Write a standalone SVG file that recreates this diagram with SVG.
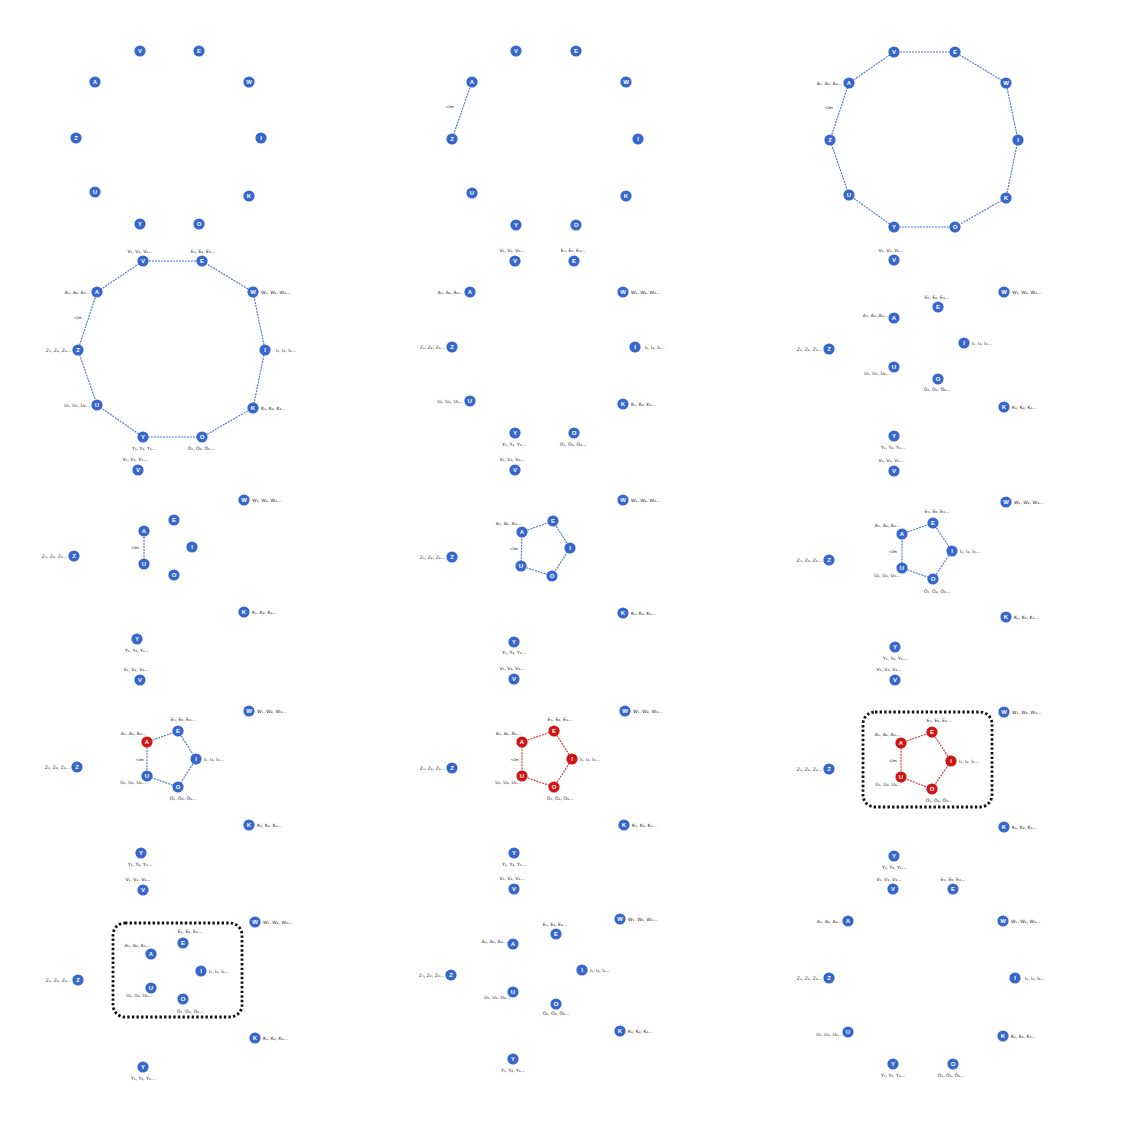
<svg xmlns="http://www.w3.org/2000/svg" width="1123" height="1133" viewBox="0 0 1123 1133">
<style>
.node circle{fill:#3767cc;r:5.6px}
.node.red circle{fill:#d01515}
.node text{fill:#fff;font-family:"Liberation Sans",Arial,sans-serif;font-weight:bold;font-size:6px;text-anchor:middle}
.node text.l{fill:#222;font-family:"DejaVu Sans","Liberation Sans",sans-serif;font-weight:normal;font-size:4.6px;text-anchor:start}
.node text.le{text-anchor:end}
.node text.lm{text-anchor:middle}
.e{fill:none;stroke:#4a70c8;stroke-width:1.1;stroke-dasharray:2 1}
.er{fill:none;stroke:#d83030;stroke-width:1.1;stroke-dasharray:2 1}
.note{fill:#2a2a2a;font-family:"Liberation Sans",Arial,sans-serif;font-size:4px;text-anchor:middle}
.box{fill:none;stroke:#111;stroke-width:2.8;stroke-dasharray:2.4 2.2}
</style>
<rect width="1123" height="1133" fill="#fff"/>

<g id="connectors">
<line class="e" x1="472" y1="82" x2="452" y2="139"/>
<polygon class="e" points="894,52 955,52 1006,83 1018,140 1006,198 955,227 894,227 849,195 830,140 849,83"/>
<polygon class="e" points="143,261 202,261 253,292 265,350 253,408 202,437 143,437 97,405 78,350 97,292"/>
<line class="e" x1="144" y1="531" x2="144" y2="564"/>
<polygon class="e" points="522,532 553,521 570,548 552,576 521,566"/>
<polygon class="e" points="902,534 933,523 952,551 933,579 902,568"/>
<polygon class="e" points="147,742 178,731 196,759 178,787 147,776"/>
<polygon class="er" points="522,742 554,731 572,759 554,787 522,776"/>
<polygon class="er" points="901,743 932,732 951,761 932,789 901,777"/>
<rect class="box" x="113" y="923" width="129" height="94" rx="12"/>
<rect class="box" x="863" y="712" width="129" height="95" rx="12"/>
</g>

<g id="notes">
<text class="note" x="450" y="108">&lt;0m</text>
<text class="note" x="829" y="109">&lt;0m</text>
<text class="note" x="78" y="319">&lt;0m</text>
<text class="note" x="135" y="549">&lt;0m</text>
<text class="note" x="514" y="550">&lt;0m</text>
<text class="note" x="893" y="553">&lt;0m</text>
<text class="note" x="140" y="761">&lt;0m</text>
<text class="note" x="515" y="761">&lt;0m</text>
<text class="note" x="893" y="762">&lt;0m</text>
</g>

<!-- Panel 1 -->
<g id="p1-V" class="node"><circle cx="140" cy="51" r="5.6"/><text x="140" y="53">V</text></g>
<g id="p1-E" class="node"><circle cx="199" cy="51" r="5.6"/><text x="199" y="53">E</text></g>
<g id="p1-A" class="node"><circle cx="95" cy="82" r="5.6"/><text x="95" y="84">A</text></g>
<g id="p1-W" class="node"><circle cx="249" cy="82" r="5.6"/><text x="249" y="84">W</text></g>
<g id="p1-Z" class="node"><circle cx="76" cy="138" r="5.6"/><text x="76" y="140">Z</text></g>
<g id="p1-I" class="node"><circle cx="261" cy="138" r="5.6"/><text x="261" y="140">I</text></g>
<g id="p1-U" class="node"><circle cx="95" cy="192" r="5.6"/><text x="95" y="194">U</text></g>
<g id="p1-K" class="node"><circle cx="249" cy="196" r="5.6"/><text x="249" y="198">K</text></g>
<g id="p1-Y" class="node"><circle cx="140" cy="224" r="5.6"/><text x="140" y="226">Y</text></g>
<g id="p1-O" class="node"><circle cx="199" cy="224" r="5.6"/><text x="199" y="226">O</text></g>

<!-- Panel 2 -->
<g id="p2-V" class="node"><circle cx="516" cy="51" r="5.6"/><text x="516" y="53">V</text></g>
<g id="p2-E" class="node"><circle cx="576" cy="51" r="5.6"/><text x="576" y="53">E</text></g>
<g id="p2-A" class="node"><circle cx="472" cy="82" r="5.6"/><text x="472" y="84">A</text></g>
<g id="p2-W" class="node"><circle cx="626" cy="82" r="5.6"/><text x="626" y="84">W</text></g>
<g id="p2-Z" class="node"><circle cx="452" cy="139" r="5.6"/><text x="452" y="141">Z</text></g>
<g id="p2-I" class="node"><circle cx="638" cy="139" r="5.6"/><text x="638" y="141">I</text></g>
<g id="p2-U" class="node"><circle cx="472" cy="193" r="5.6"/><text x="472" y="195">U</text></g>
<g id="p2-K" class="node"><circle cx="626" cy="196" r="5.6"/><text x="626" y="198">K</text></g>
<g id="p2-Y" class="node"><circle cx="516" cy="225" r="5.6"/><text x="516" y="227">Y</text></g>
<g id="p2-O" class="node"><circle cx="576" cy="225" r="5.6"/><text x="576" y="227">O</text></g>

<!-- Panel 3 -->
<g id="p3-V" class="node"><circle cx="894" cy="52" r="5.6"/><text x="894" y="54">V</text></g>
<g id="p3-E" class="node"><circle cx="955" cy="52" r="5.6"/><text x="955" y="54">E</text></g>
<g id="p3-A" class="node"><circle cx="849" cy="83" r="5.6"/><text x="849" y="85">A</text><text class="l le" x="842" y="85">A₁, A₂, A₃...</text></g>
<g id="p3-W" class="node"><circle cx="1006" cy="83" r="5.6"/><text x="1006" y="85">W</text></g>
<g id="p3-Z" class="node"><circle cx="830" cy="140" r="5.6"/><text x="830" y="142">Z</text></g>
<g id="p3-I" class="node"><circle cx="1018" cy="140" r="5.6"/><text x="1018" y="142">I</text></g>
<g id="p3-U" class="node"><circle cx="849" cy="195" r="5.6"/><text x="849" y="197">U</text></g>
<g id="p3-K" class="node"><circle cx="1006" cy="198" r="5.6"/><text x="1006" y="200">K</text></g>
<g id="p3-Y" class="node"><circle cx="894" cy="227" r="5.6"/><text x="894" y="229">Y</text></g>
<g id="p3-O" class="node"><circle cx="955" cy="227" r="5.6"/><text x="955" y="229">O</text></g>
<g id="p3-V2" class="node"><circle cx="894" cy="260" r="5.6"/><text x="894" y="262">V</text><text class="l lm" x="891" y="252">V₁, V₂, V₃...</text></g>

<!-- Panel 4 -->
<g id="p4-V" class="node"><circle cx="143" cy="261" r="5.6"/><text x="143" y="263">V</text><text class="l lm" x="140" y="253">V₁, V₂, V₃...</text></g>
<g id="p4-E" class="node"><circle cx="202" cy="261" r="5.6"/><text x="202" y="263">E</text><text class="l lm" x="203" y="253">E₁, E₂, E₃...</text></g>
<g id="p4-A" class="node"><circle cx="97" cy="292" r="5.6"/><text x="97" y="294">A</text><text class="l le" x="90" y="294">A₁, A₂, A₃...</text></g>
<g id="p4-W" class="node"><circle cx="253" cy="292" r="5.6"/><text x="253" y="294">W</text><text class="l" x="261" y="294">W₁, W₂, W₃...</text></g>
<g id="p4-Z" class="node"><circle cx="78" cy="350" r="5.6"/><text x="78" y="352">Z</text><text class="l le" x="71" y="352">Z₁, Z₂, Z₃...</text></g>
<g id="p4-I" class="node"><circle cx="265" cy="350" r="5.6"/><text x="265" y="352">I</text><text class="l" x="276" y="352">I₁, I₂, I₃...</text></g>
<g id="p4-U" class="node"><circle cx="97" cy="405" r="5.6"/><text x="97" y="407">U</text><text class="l le" x="90" y="407">U₁, U₂, U₃...</text></g>
<g id="p4-K" class="node"><circle cx="253" cy="408" r="5.6"/><text x="253" y="410">K</text><text class="l" x="261" y="410">K₁, K₂, K₃...</text></g>
<g id="p4-Y" class="node"><circle cx="143" cy="437" r="5.6"/><text x="143" y="439">Y</text><text class="l lm" x="144" y="450">Y₁, Y₂, Y₃...</text></g>
<g id="p4-O" class="node"><circle cx="202" cy="437" r="5.6"/><text x="202" y="439">O</text><text class="l lm" x="201" y="450">O₁, O₂, O₃...</text></g>
<g id="p4-V2" class="node"><circle cx="138" cy="470" r="5.6"/><text x="138" y="472">V</text><text class="l lm" x="135" y="461">V₁, V₂, V₃...</text></g>

<!-- Panel 5 -->
<g id="p5-V" class="node"><circle cx="515" cy="261" r="5.6"/><text x="515" y="263">V</text><text class="l lm" x="512" y="252">V₁, V₂, V₃...</text></g>
<g id="p5-E" class="node"><circle cx="574" cy="261" r="5.6"/><text x="574" y="263">E</text><text class="l lm" x="573" y="252">E₁, E₂, E₃...</text></g>
<g id="p5-A" class="node"><circle cx="470" cy="292" r="5.6"/><text x="470" y="294">A</text><text class="l le" x="463" y="294">A₁, A₂, A₃...</text></g>
<g id="p5-W" class="node"><circle cx="623" cy="292" r="5.6"/><text x="623" y="294">W</text><text class="l" x="631" y="294">W₁, W₂, W₃...</text></g>
<g id="p5-Z" class="node"><circle cx="452" cy="347" r="5.6"/><text x="452" y="349">Z</text><text class="l le" x="445" y="349">Z₁, Z₂, Z₃...</text></g>
<g id="p5-I" class="node"><circle cx="635" cy="347" r="5.6"/><text x="635" y="349">I</text><text class="l" x="645" y="349">I₁, I₂, I₃...</text></g>
<g id="p5-U" class="node"><circle cx="470" cy="401" r="5.6"/><text x="470" y="403">U</text><text class="l le" x="463" y="403">U₁, U₂, U₃...</text></g>
<g id="p5-K" class="node"><circle cx="623" cy="404" r="5.6"/><text x="623" y="406">K</text><text class="l" x="631" y="406">K₁, K₂, K₃...</text></g>
<g id="p5-Y" class="node"><circle cx="515" cy="433" r="5.6"/><text x="515" y="435">Y</text><text class="l lm" x="514" y="446">Y₁, Y₂, Y₃...</text></g>
<g id="p5-O" class="node"><circle cx="574" cy="433" r="5.6"/><text x="574" y="435">O</text><text class="l lm" x="573" y="446">O₁, O₂, O₃...</text></g>
<g id="p5-V2" class="node"><circle cx="515" cy="470" r="5.6"/><text x="515" y="472">V</text><text class="l lm" x="512" y="461">V₁, V₂, V₃...</text></g>

<!-- Panel 6 -->
<g id="p6-W" class="node"><circle cx="1004" cy="292" r="5.6"/><text x="1004" y="294">W</text><text class="l" x="1012" y="294">W₁, W₂, W₃...</text></g>
<g id="p6-E" class="node"><circle cx="938" cy="307" r="5.6"/><text x="938" y="309">E</text><text class="l lm" x="937" y="299">E₁, E₂, E₃...</text></g>
<g id="p6-A" class="node"><circle cx="894" cy="318" r="5.6"/><text x="894" y="320">A</text><text class="l le" x="888" y="317">A₁, A₂, A₃...</text></g>
<g id="p6-Z" class="node"><circle cx="829" cy="349" r="5.6"/><text x="829" y="351">Z</text><text class="l le" x="822" y="351">Z₁, Z₂, Z₃...</text></g>
<g id="p6-I" class="node"><circle cx="964" cy="343" r="5.6"/><text x="964" y="345">I</text><text class="l" x="972" y="345">I₁, I₂, I₃...</text></g>
<g id="p6-U" class="node"><circle cx="894" cy="367" r="5.6"/><text x="894" y="369">U</text><text class="l le" x="890" y="375">U₁, U₂, U₃...</text></g>
<g id="p6-O" class="node"><circle cx="938" cy="379" r="5.6"/><text x="938" y="381">O</text><text class="l lm" x="937" y="391">O₁, O₂, O₃...</text></g>
<g id="p6-K" class="node"><circle cx="1004" cy="407" r="5.6"/><text x="1004" y="409">K</text><text class="l" x="1012" y="409">K₁, K₂, K₃...</text></g>
<g id="p6-Y" class="node"><circle cx="894" cy="436" r="5.6"/><text x="894" y="438">Y</text><text class="l lm" x="893" y="449">Y₁, Y₂, Y₃...</text></g>
<g id="p6-V" class="node"><circle cx="894" cy="471" r="5.6"/><text x="894" y="473">V</text><text class="l lm" x="891" y="462">V₁, V₂, V₃...</text></g>

<!-- Panel 7 -->
<g id="p7-W" class="node"><circle cx="244" cy="500" r="5.6"/><text x="244" y="502">W</text><text class="l" x="252" y="502">W₁, W₂, W₃...</text></g>
<g id="p7-E" class="node"><circle cx="174" cy="520" r="5.6"/><text x="174" y="522">E</text></g>
<g id="p7-A" class="node"><circle cx="144" cy="531" r="5.6"/><text x="144" y="533">A</text></g>
<g id="p7-I" class="node"><circle cx="192" cy="547" r="5.6"/><text x="192" y="549">I</text></g>
<g id="p7-Z" class="node"><circle cx="74" cy="556" r="5.6"/><text x="74" y="558">Z</text><text class="l le" x="67" y="558">Z₁, Z₂, Z₃...</text></g>
<g id="p7-U" class="node"><circle cx="144" cy="564" r="5.6"/><text x="144" y="566">U</text></g>
<g id="p7-O" class="node"><circle cx="174" cy="575" r="5.6"/><text x="174" y="577">O</text></g>
<g id="p7-K" class="node"><circle cx="244" cy="612" r="5.6"/><text x="244" y="614">K</text><text class="l" x="252" y="614">K₁, K₂, K₃...</text></g>
<g id="p7-Y" class="node"><circle cx="137" cy="639" r="5.6"/><text x="137" y="641">Y</text><text class="l lm" x="137" y="652">Y₁, Y₂, Y₃...</text></g>
<g id="p7-V" class="node"><circle cx="140" cy="680" r="5.6"/><text x="140" y="682">V</text><text class="l lm" x="136" y="671">V₁, V₂, V₃...</text></g>

<!-- Panel 8 -->
<g id="p8-W" class="node"><circle cx="623" cy="500" r="5.6"/><text x="623" y="502">W</text><text class="l" x="631" y="502">W₁, W₂, W₃...</text></g>
<g id="p8-E" class="node"><circle cx="553" cy="521" r="5.6"/><text x="553" y="523">E</text></g>
<g id="p8-A" class="node"><circle cx="522" cy="532" r="5.6"/><text x="522" y="534">A</text><text class="l le" x="521" y="525">A₁, A₂, A₃...</text></g>
<g id="p8-I" class="node"><circle cx="570" cy="548" r="5.6"/><text x="570" y="550">I</text></g>
<g id="p8-Z" class="node"><circle cx="452" cy="557" r="5.6"/><text x="452" y="559">Z</text><text class="l le" x="445" y="559">Z₁, Z₂, Z₃...</text></g>
<g id="p8-U" class="node"><circle cx="521" cy="566" r="5.6"/><text x="521" y="568">U</text></g>
<g id="p8-O" class="node"><circle cx="552" cy="576" r="5.6"/><text x="552" y="578">O</text></g>
<g id="p8-K" class="node"><circle cx="623" cy="613" r="5.6"/><text x="623" y="615">K</text><text class="l" x="631" y="615">K₁, K₂, K₃...</text></g>
<g id="p8-Y" class="node"><circle cx="514" cy="642" r="5.6"/><text x="514" y="644">Y</text><text class="l lm" x="514" y="654">Y₁, Y₂, Y₃...</text></g>
<g id="p8-V" class="node"><circle cx="514" cy="679" r="5.6"/><text x="514" y="681">V</text><text class="l lm" x="512" y="670">V₁, V₂, V₃...</text></g>

<!-- Panel 9 -->
<g id="p9-W" class="node"><circle cx="1006" cy="502" r="5.6"/><text x="1006" y="504">W</text><text class="l" x="1014" y="504">W₁, W₂, W₃...</text></g>
<g id="p9-E" class="node"><circle cx="933" cy="523" r="5.6"/><text x="933" y="525">E</text><text class="l lm" x="937" y="513">E₁, E₂, E₃...</text></g>
<g id="p9-A" class="node"><circle cx="902" cy="534" r="5.6"/><text x="902" y="536">A</text><text class="l le" x="900" y="527">A₁, A₂, A₃...</text></g>
<g id="p9-I" class="node"><circle cx="952" cy="551" r="5.6"/><text x="952" y="553">I</text><text class="l" x="960" y="553">I₁, I₂, I₃...</text></g>
<g id="p9-Z" class="node"><circle cx="829" cy="560" r="5.6"/><text x="829" y="562">Z</text><text class="l le" x="822" y="562">Z₁, Z₂, Z₃...</text></g>
<g id="p9-U" class="node"><circle cx="902" cy="568" r="5.6"/><text x="902" y="570">U</text><text class="l le" x="900" y="577">U₁, U₂, U₃...</text></g>
<g id="p9-O" class="node"><circle cx="933" cy="579" r="5.6"/><text x="933" y="581">O</text><text class="l lm" x="937" y="593">O₁, O₂, O₃...</text></g>
<g id="p9-K" class="node"><circle cx="1006" cy="617" r="5.6"/><text x="1006" y="619">K</text><text class="l" x="1014" y="619">K₁, K₂, K₃...</text></g>
<g id="p9-Y" class="node"><circle cx="895" cy="647" r="5.6"/><text x="895" y="649">Y</text><text class="l lm" x="895" y="660">Y₁, Y₂, Y₃...</text></g>
<g id="p9-V" class="node"><circle cx="895" cy="680" r="5.6"/><text x="895" y="682">V</text><text class="l lm" x="889" y="671">V₁, V₂, V₃...</text></g>

<!-- Panel 10 -->
<g id="p10-W" class="node"><circle cx="249" cy="711" r="5.6"/><text x="249" y="713">W</text><text class="l" x="257" y="713">W₁, W₂, W₃...</text></g>
<g id="p10-E" class="node"><circle cx="178" cy="731" r="5.6"/><text x="178" y="733">E</text><text class="l lm" x="183" y="721">E₁, E₂, E₃...</text></g>
<g id="p10-A" class="node red"><circle cx="147" cy="742" r="5.6"/><text x="147" y="744">A</text><text class="l le" x="146" y="735">A₁, A₂, A₃...</text></g>
<g id="p10-I" class="node"><circle cx="196" cy="759" r="5.6"/><text x="196" y="761">I</text><text class="l" x="204" y="761">I₁, I₂, I₃...</text></g>
<g id="p10-Z" class="node"><circle cx="77" cy="767" r="5.6"/><text x="77" y="769">Z</text><text class="l le" x="70" y="769">Z₁, Z₂, Z₃...</text></g>
<g id="p10-U" class="node"><circle cx="147" cy="776" r="5.6"/><text x="147" y="778">U</text><text class="l le" x="146" y="784">U₁, U₂, U₃...</text></g>
<g id="p10-O" class="node"><circle cx="178" cy="787" r="5.6"/><text x="178" y="789">O</text><text class="l lm" x="183" y="800">O₁, O₂, O₃...</text></g>
<g id="p10-K" class="node"><circle cx="249" cy="825" r="5.6"/><text x="249" y="827">K</text><text class="l" x="257" y="827">K₁, K₂, K₃...</text></g>
<g id="p10-Y" class="node"><circle cx="141" cy="853" r="5.6"/><text x="141" y="855">Y</text><text class="l lm" x="140" y="866">Y₁, Y₂, Y₃...</text></g>
<g id="p10-V" class="node"><circle cx="143" cy="890" r="5.6"/><text x="143" y="892">V</text><text class="l lm" x="138" y="881">V₁, V₂, V₃...</text></g>

<!-- Panel 11 -->
<g id="p11-W" class="node"><circle cx="625" cy="711" r="5.6"/><text x="625" y="713">W</text><text class="l" x="633" y="713">W₁, W₂, W₃...</text></g>
<g id="p11-E" class="node red"><circle cx="554" cy="731" r="5.6"/><text x="554" y="733">E</text><text class="l lm" x="560" y="721">E₁, E₂, E₃...</text></g>
<g id="p11-A" class="node red"><circle cx="522" cy="742" r="5.6"/><text x="522" y="744">A</text><text class="l le" x="521" y="735">A₁, A₂, A₃...</text></g>
<g id="p11-I" class="node red"><circle cx="572" cy="759" r="5.6"/><text x="572" y="761">I</text><text class="l" x="580" y="761">I₁, I₂, I₃...</text></g>
<g id="p11-Z" class="node"><circle cx="452" cy="768" r="5.6"/><text x="452" y="770">Z</text><text class="l le" x="445" y="770">Z₁, Z₂, Z₃...</text></g>
<g id="p11-U" class="node red"><circle cx="522" cy="776" r="5.6"/><text x="522" y="778">U</text><text class="l le" x="521" y="784">U₁, U₂, U₃...</text></g>
<g id="p11-O" class="node red"><circle cx="554" cy="787" r="5.6"/><text x="554" y="789">O</text><text class="l lm" x="560" y="800">O₁, O₂, O₃...</text></g>
<g id="p11-K" class="node"><circle cx="624" cy="825" r="5.6"/><text x="624" y="827">K</text><text class="l" x="632" y="827">K₁, K₂, K₃...</text></g>
<g id="p11-Y" class="node"><circle cx="514" cy="853" r="5.6"/><text x="514" y="855">Y</text><text class="l lm" x="514" y="866">Y₁, Y₂, Y₃...</text></g>
<g id="p11-V" class="node"><circle cx="514" cy="889" r="5.6"/><text x="514" y="891">V</text><text class="l lm" x="512" y="880">V₁, V₂, V₃...</text></g>

<!-- Panel 12 -->
<g id="p12-W" class="node"><circle cx="1004" cy="712" r="5.6"/><text x="1004" y="714">W</text><text class="l" x="1012" y="714">W₁, W₂, W₃...</text></g>
<g id="p12-E" class="node red"><circle cx="932" cy="732" r="5.6"/><text x="932" y="734">E</text><text class="l lm" x="939" y="722">E₁, E₂, E₃...</text></g>
<g id="p12-A" class="node red"><circle cx="901" cy="743" r="5.6"/><text x="901" y="745">A</text><text class="l le" x="900" y="736">A₁, A₂, A₃...</text></g>
<g id="p12-I" class="node red"><circle cx="951" cy="761" r="5.6"/><text x="951" y="763">I</text><text class="l" x="959" y="763">I₁, I₂, I₃...</text></g>
<g id="p12-Z" class="node"><circle cx="829" cy="769" r="5.6"/><text x="829" y="771">Z</text><text class="l le" x="822" y="771">Z₁, Z₂, Z₃...</text></g>
<g id="p12-U" class="node red"><circle cx="901" cy="777" r="5.6"/><text x="901" y="779">U</text><text class="l le" x="901" y="786">U₁, U₂, U₃...</text></g>
<g id="p12-O" class="node red"><circle cx="932" cy="789" r="5.6"/><text x="932" y="791">O</text><text class="l lm" x="939" y="802">O₁, O₂, O₃...</text></g>
<g id="p12-K" class="node"><circle cx="1004" cy="827" r="5.6"/><text x="1004" y="829">K</text><text class="l" x="1012" y="829">K₁, K₂, K₃...</text></g>
<g id="p12-Y" class="node"><circle cx="894" cy="856" r="5.6"/><text x="894" y="858">Y</text><text class="l lm" x="894" y="869">Y₁, Y₂, Y₃...</text></g>

<!-- Panel 13 -->
<g id="p13-W" class="node"><circle cx="255" cy="922" r="5.6"/><text x="255" y="924">W</text><text class="l" x="263" y="924">W₁, W₂, W₃...</text></g>
<g id="p13-E" class="node"><circle cx="183" cy="943" r="5.6"/><text x="183" y="945">E</text><text class="l lm" x="190" y="933">E₁, E₂, E₃...</text></g>
<g id="p13-A" class="node"><circle cx="151" cy="954" r="5.6"/><text x="151" y="956">A</text><text class="l le" x="150" y="947">A₁, A₂, A₃...</text></g>
<g id="p13-I" class="node"><circle cx="201" cy="971" r="5.6"/><text x="201" y="973">I</text><text class="l" x="209" y="973">I₁, I₂, I₃...</text></g>
<g id="p13-Z" class="node"><circle cx="78" cy="980" r="5.6"/><text x="78" y="982">Z</text><text class="l le" x="71" y="982">Z₁, Z₂, Z₃...</text></g>
<g id="p13-U" class="node"><circle cx="151" cy="988" r="5.6"/><text x="151" y="990">U</text><text class="l le" x="152" y="997">U₁, U₂, U₃...</text></g>
<g id="p13-O" class="node"><circle cx="183" cy="999" r="5.6"/><text x="183" y="1001">O</text><text class="l lm" x="190" y="1013">O₁, O₂, O₃...</text></g>
<g id="p13-K" class="node"><circle cx="255" cy="1038" r="5.6"/><text x="255" y="1040">K</text><text class="l" x="263" y="1040">K₁, K₂, K₃...</text></g>
<g id="p13-Y" class="node"><circle cx="143" cy="1067" r="5.6"/><text x="143" y="1069">Y</text><text class="l lm" x="143" y="1080">Y₁, Y₂, Y₃...</text></g>

<!-- Panel 14 -->
<g id="p14-W" class="node"><circle cx="620" cy="919" r="5.6"/><text x="620" y="921">W</text><text class="l" x="628" y="921">W₁, W₂, W₃...</text></g>
<g id="p14-E" class="node"><circle cx="556" cy="934" r="5.6"/><text x="556" y="936">E</text><text class="l lm" x="555" y="926">E₁, E₂, E₃...</text></g>
<g id="p14-A" class="node"><circle cx="513" cy="944" r="5.6"/><text x="513" y="946">A</text><text class="l le" x="507" y="943">A₁, A₂, A₃...</text></g>
<g id="p14-Z" class="node"><circle cx="451" cy="975" r="5.6"/><text x="451" y="977">Z</text><text class="l le" x="444" y="977">Z₁, Z₂, Z₃...</text></g>
<g id="p14-I" class="node"><circle cx="582" cy="970" r="5.6"/><text x="582" y="972">I</text><text class="l" x="590" y="972">I₁, I₂, I₃...</text></g>
<g id="p14-U" class="node"><circle cx="513" cy="992" r="5.6"/><text x="513" y="994">U</text><text class="l le" x="510" y="999">U₁, U₂, U₃...</text></g>
<g id="p14-O" class="node"><circle cx="556" cy="1004" r="5.6"/><text x="556" y="1006">O</text><text class="l lm" x="556" y="1015">O₁, O₂, O₃...</text></g>
<g id="p14-K" class="node"><circle cx="620" cy="1031" r="5.6"/><text x="620" y="1033">K</text><text class="l" x="628" y="1033">K₁, K₂, K₃...</text></g>
<g id="p14-Y" class="node"><circle cx="513" cy="1059" r="5.6"/><text x="513" y="1061">Y</text><text class="l lm" x="513" y="1072">Y₁, Y₂, Y₃...</text></g>

<!-- Panel 15 -->
<g id="p15-V" class="node"><circle cx="893" cy="889" r="5.6"/><text x="893" y="891">V</text><text class="l lm" x="889" y="881">V₁, V₂, V₃...</text></g>
<g id="p15-E" class="node"><circle cx="953" cy="889" r="5.6"/><text x="953" y="891">E</text><text class="l lm" x="953" y="881">E₁, E₂, E₃...</text></g>
<g id="p15-A" class="node"><circle cx="848" cy="921" r="5.6"/><text x="848" y="923">A</text><text class="l le" x="842" y="923">A₁, A₂, A₃...</text></g>
<g id="p15-W" class="node"><circle cx="1003" cy="921" r="5.6"/><text x="1003" y="923">W</text><text class="l" x="1011" y="923">W₁, W₂, W₃...</text></g>
<g id="p15-Z" class="node"><circle cx="829" cy="978" r="5.6"/><text x="829" y="980">Z</text><text class="l le" x="822" y="980">Z₁, Z₂, Z₃...</text></g>
<g id="p15-I" class="node"><circle cx="1015" cy="978" r="5.6"/><text x="1015" y="980">I</text><text class="l" x="1025" y="980">I₁, I₂, I₃...</text></g>
<g id="p15-U" class="node"><circle cx="848" cy="1032" r="5.6"/><text x="848" y="1034">U</text><text class="l le" x="842" y="1036">U₁, U₂, U₃...</text></g>
<g id="p15-K" class="node"><circle cx="1003" cy="1036" r="5.6"/><text x="1003" y="1038">K</text><text class="l" x="1011" y="1038">K₁, K₂, K₃...</text></g>
<g id="p15-Y" class="node"><circle cx="893" cy="1064" r="5.6"/><text x="893" y="1066">Y</text><text class="l lm" x="893" y="1077">Y₁, Y₂, Y₃...</text></g>
<g id="p15-O" class="node"><circle cx="953" cy="1064" r="5.6"/><text x="953" y="1066">O</text><text class="l lm" x="951" y="1077">O₁, O₂, O₃...</text></g>
</svg>
